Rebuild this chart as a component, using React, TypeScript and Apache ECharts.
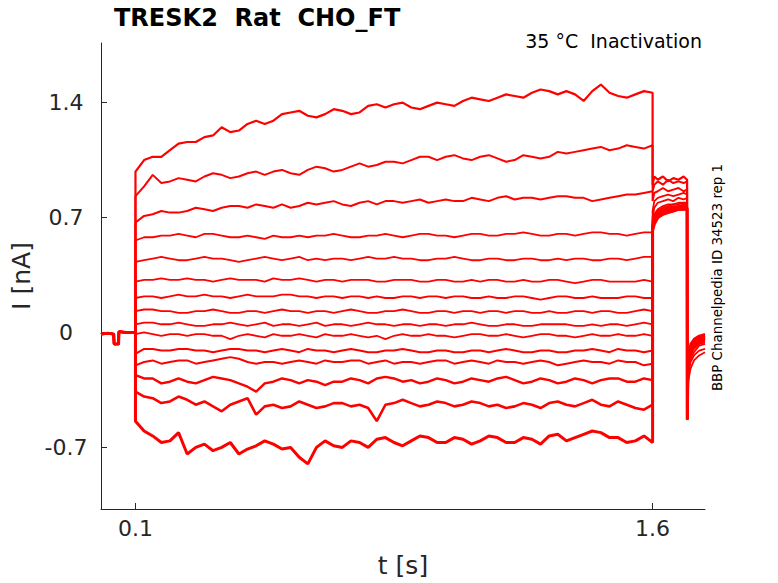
import React, { useRef, useEffect } from 'react'
import * as echarts from 'echarts'

// time grid of the pre-pulse holding segment [s]
const PRE_T = [0, 0.02, 0.037, 0.038, 0.051, 0.052, 0.075, 0.1]
const PRE_I = [-0.01, -0.005, -0.01, -0.07, -0.07, 0.005, 0.0, 0.0]

// time grid of the conditioning step [s], every 25 ms
const STEP_T = [
  0.1, 0.125, 0.15, 0.175, 0.2, 0.225, 0.25, 0.275, 0.3, 0.325, 0.35, 0.375, 0.4, 0.425, 0.45,
  0.475, 0.5, 0.525, 0.55, 0.575, 0.6, 0.625, 0.65, 0.675, 0.7, 0.725, 0.75, 0.775, 0.8, 0.825,
  0.85, 0.875, 0.9, 0.925, 0.95, 0.975, 1.0, 1.025, 1.05, 1.075, 1.1, 1.125, 1.15, 1.175, 1.2,
  1.225, 1.25, 1.275, 1.3, 1.325, 1.35, 1.375, 1.4, 1.425, 1.45, 1.475, 1.5, 1.525, 1.55, 1.575, 1.6,
]

// test pulse and return to holding [s]
const TAIL_T = [1.6, 1.605, 1.615, 1.63, 1.645, 1.66, 1.675, 1.69, 1.7]
const POST_T = [1.7005, 1.703, 1.71, 1.72, 1.735, 1.752]

// currents during the step [nA], one row per sweep
const stepCurrents = [
  [0.98, 1.05, 1.07, 1.07, 1.11, 1.15, 1.16, 1.16, 1.19, 1.2, 1.25, 1.22, 1.23, 1.27, 1.29, 1.27, 1.29, 1.33, 1.34, 1.35, 1.32, 1.31, 1.33, 1.36, 1.35, 1.33, 1.34, 1.38, 1.39, 1.37, 1.39, 1.4, 1.37, 1.36, 1.38, 1.4, 1.39, 1.38, 1.41, 1.43, 1.42, 1.41, 1.43, 1.45, 1.44, 1.43, 1.46, 1.48, 1.47, 1.45, 1.47, 1.45, 1.41, 1.47, 1.51, 1.46, 1.44, 1.43, 1.45, 1.47, 1.46],
  [0.83, 0.89, 0.96, 0.91, 0.92, 0.94, 0.93, 0.92, 0.95, 0.97, 0.96, 0.94, 0.95, 0.97, 0.98, 0.96, 0.98, 0.99, 0.97, 0.96, 0.99, 1.01, 1.0, 0.98, 0.99, 1.01, 1.03, 1.01, 1.02, 1.04, 1.04, 1.03, 1.05, 1.07, 1.07, 1.05, 1.07, 1.08, 1.06, 1.05, 1.07, 1.08, 1.06, 1.04, 1.05, 1.08, 1.07, 1.06, 1.07, 1.1, 1.09, 1.1, 1.11, 1.12, 1.13, 1.11, 1.12, 1.14, 1.13, 1.12, 1.14],
  [0.67, 0.71, 0.72, 0.74, 0.73, 0.73, 0.74, 0.76, 0.75, 0.74, 0.76, 0.77, 0.77, 0.76, 0.78, 0.77, 0.76, 0.78, 0.76, 0.77, 0.79, 0.78, 0.79, 0.8, 0.78, 0.77, 0.79, 0.8, 0.78, 0.8, 0.8, 0.79, 0.8, 0.81, 0.79, 0.8, 0.81, 0.8, 0.8, 0.82, 0.81, 0.8, 0.82, 0.83, 0.81, 0.82, 0.82, 0.81, 0.82, 0.83, 0.83, 0.82, 0.82, 0.8, 0.81, 0.82, 0.83, 0.84, 0.84, 0.85, 0.86],
  [0.56, 0.58, 0.58, 0.59, 0.59, 0.6, 0.59, 0.58, 0.6, 0.6, 0.59, 0.58, 0.58, 0.59, 0.58, 0.57, 0.59, 0.58, 0.58, 0.59, 0.58, 0.59, 0.59, 0.6, 0.59, 0.58, 0.58, 0.59, 0.59, 0.6, 0.59, 0.58, 0.59, 0.6, 0.6, 0.59, 0.59, 0.58, 0.59, 0.6, 0.6, 0.59, 0.59, 0.6, 0.6, 0.61, 0.6, 0.59, 0.59, 0.6, 0.6, 0.59, 0.6, 0.61, 0.61, 0.6, 0.6, 0.59, 0.6, 0.61, 0.61],
  [0.43, 0.44, 0.45, 0.46, 0.45, 0.44, 0.44, 0.45, 0.46, 0.45, 0.45, 0.44, 0.43, 0.44, 0.45, 0.46, 0.45, 0.44, 0.45, 0.46, 0.44, 0.45, 0.44, 0.45, 0.45, 0.44, 0.45, 0.46, 0.45, 0.45, 0.46, 0.45, 0.45, 0.44, 0.44, 0.45, 0.45, 0.46, 0.45, 0.44, 0.44, 0.45, 0.45, 0.44, 0.44, 0.45, 0.45, 0.44, 0.44, 0.45, 0.44, 0.45, 0.45, 0.44, 0.44, 0.45, 0.45, 0.44, 0.45, 0.46, 0.46],
  [0.31, 0.32, 0.32, 0.33, 0.32, 0.32, 0.33, 0.32, 0.32, 0.31, 0.32, 0.33, 0.32, 0.32, 0.32, 0.31, 0.33, 0.32, 0.32, 0.33, 0.32, 0.31, 0.32, 0.32, 0.31, 0.32, 0.32, 0.32, 0.31, 0.31, 0.32, 0.32, 0.32, 0.31, 0.31, 0.32, 0.32, 0.31, 0.31, 0.32, 0.31, 0.32, 0.32, 0.31, 0.31, 0.32, 0.31, 0.31, 0.32, 0.32, 0.31, 0.3, 0.31, 0.32, 0.32, 0.31, 0.31, 0.31, 0.31, 0.32, 0.31],
  [0.21, 0.22, 0.22, 0.21, 0.22, 0.23, 0.22, 0.22, 0.23, 0.22, 0.22, 0.21, 0.22, 0.23, 0.22, 0.22, 0.22, 0.23, 0.23, 0.22, 0.22, 0.21, 0.22, 0.22, 0.21, 0.22, 0.22, 0.21, 0.22, 0.21, 0.21, 0.22, 0.22, 0.21, 0.22, 0.22, 0.21, 0.22, 0.22, 0.21, 0.21, 0.22, 0.21, 0.21, 0.22, 0.22, 0.21, 0.2, 0.21, 0.22, 0.22, 0.21, 0.21, 0.22, 0.21, 0.21, 0.21, 0.22, 0.22, 0.21, 0.21],
  [0.13, 0.14, 0.14, 0.13, 0.13, 0.12, 0.12, 0.13, 0.13, 0.14, 0.13, 0.12, 0.12, 0.13, 0.13, 0.12, 0.13, 0.14, 0.13, 0.13, 0.12, 0.13, 0.13, 0.12, 0.13, 0.14, 0.13, 0.12, 0.12, 0.13, 0.13, 0.14, 0.13, 0.12, 0.12, 0.13, 0.13, 0.12, 0.13, 0.13, 0.12, 0.13, 0.13, 0.12, 0.13, 0.13, 0.12, 0.12, 0.13, 0.12, 0.12, 0.13, 0.13, 0.12, 0.13, 0.13, 0.12, 0.12, 0.13, 0.14, 0.13],
  [0.05, 0.06, 0.06, 0.05, 0.05, 0.06, 0.05, 0.04, 0.04, 0.05, 0.05, 0.06, 0.05, 0.04, 0.05, 0.06, 0.04, 0.05, 0.05, 0.04, 0.05, 0.06, 0.04, 0.05, 0.05, 0.04, 0.05, 0.06, 0.05, 0.05, 0.04, 0.05, 0.05, 0.04, 0.05, 0.05, 0.04, 0.05, 0.05, 0.06, 0.05, 0.04, 0.04, 0.05, 0.05, 0.04, 0.04, 0.05, 0.05, 0.05, 0.05, 0.04, 0.04, 0.05, 0.04, 0.05, 0.05, 0.04, 0.05, 0.06, 0.05],
  [-0.01, 0.0, -0.01, -0.02, -0.01, -0.01, -0.02, -0.01, -0.01, -0.02, -0.02, -0.04, -0.02, -0.01, -0.02, -0.03, -0.01, -0.02, -0.02, -0.01, -0.02, -0.03, -0.01, -0.02, -0.02, -0.01, -0.02, -0.03, -0.02, -0.04, -0.02, -0.01, -0.02, -0.02, -0.01, -0.02, -0.02, -0.03, -0.02, -0.01, -0.01, -0.02, -0.02, -0.01, -0.02, -0.03, -0.02, -0.01, -0.01, -0.02, -0.02, -0.03, -0.02, -0.01, -0.02, -0.02, -0.01, -0.02, -0.02, -0.01, -0.02],
  [-0.13, -0.1, -0.1, -0.11, -0.11, -0.1, -0.1, -0.11, -0.11, -0.12, -0.11, -0.1, -0.1, -0.11, -0.11, -0.12, -0.11, -0.1, -0.11, -0.12, -0.1, -0.11, -0.11, -0.12, -0.11, -0.1, -0.11, -0.12, -0.12, -0.11, -0.11, -0.1, -0.11, -0.12, -0.12, -0.11, -0.11, -0.12, -0.12, -0.11, -0.11, -0.12, -0.11, -0.1, -0.11, -0.12, -0.12, -0.11, -0.11, -0.12, -0.12, -0.11, -0.11, -0.1, -0.11, -0.12, -0.1, -0.11, -0.11, -0.12, -0.11],
  [-0.2, -0.18, -0.17, -0.19, -0.18, -0.17, -0.17, -0.19, -0.18, -0.17, -0.16, -0.15, -0.16, -0.18, -0.19, -0.18, -0.18, -0.19, -0.18, -0.17, -0.18, -0.19, -0.17, -0.18, -0.18, -0.17, -0.17, -0.19, -0.18, -0.17, -0.19, -0.18, -0.18, -0.19, -0.18, -0.17, -0.17, -0.19, -0.18, -0.17, -0.18, -0.19, -0.17, -0.18, -0.18, -0.19, -0.18, -0.17, -0.18, -0.2, -0.19, -0.18, -0.17, -0.18, -0.18, -0.19, -0.17, -0.18, -0.18, -0.2, -0.19],
  [-0.26, -0.28, -0.28, -0.31, -0.3, -0.28, -0.3, -0.31, -0.29, -0.27, -0.28, -0.29, -0.31, -0.33, -0.36, -0.31, -0.3, -0.28, -0.29, -0.31, -0.29, -0.3, -0.32, -0.3, -0.3, -0.28, -0.29, -0.31, -0.28, -0.27, -0.28, -0.3, -0.29, -0.31, -0.3, -0.28, -0.29, -0.31, -0.3, -0.28, -0.29, -0.3, -0.28, -0.27, -0.29, -0.31, -0.3, -0.28, -0.29, -0.31, -0.3, -0.28, -0.29, -0.31, -0.29, -0.28, -0.28, -0.3, -0.3, -0.28, -0.29],
  [-0.36, -0.39, -0.4, -0.43, -0.42, -0.39, -0.41, -0.44, -0.42, -0.45, -0.48, -0.44, -0.42, -0.4, -0.5, -0.45, -0.44, -0.46, -0.45, -0.42, -0.44, -0.46, -0.45, -0.43, -0.43, -0.45, -0.44, -0.46, -0.54, -0.44, -0.43, -0.41, -0.43, -0.45, -0.44, -0.42, -0.43, -0.45, -0.44, -0.42, -0.43, -0.45, -0.44, -0.46, -0.45, -0.43, -0.44, -0.46, -0.43, -0.42, -0.44, -0.45, -0.43, -0.41, -0.44, -0.45, -0.42, -0.44, -0.46, -0.47, -0.44],
  [-0.54, -0.6, -0.63, -0.67, -0.66, -0.61, -0.74, -0.7, -0.68, -0.72, -0.7, -0.67, -0.74, -0.71, -0.69, -0.66, -0.68, -0.71, -0.7, -0.76, -0.8, -0.7, -0.66, -0.69, -0.7, -0.66, -0.67, -0.7, -0.65, -0.64, -0.67, -0.69, -0.66, -0.63, -0.64, -0.67, -0.67, -0.64, -0.65, -0.68, -0.66, -0.63, -0.64, -0.67, -0.67, -0.64, -0.65, -0.68, -0.63, -0.62, -0.66, -0.64, -0.62, -0.6, -0.61, -0.64, -0.64, -0.67, -0.66, -0.63, -0.67],
]

// currents during the test pulse [nA]
const tailCurrents = [
  [0.9, 0.95, 0.93, 0.95, 0.92, 0.94, 0.93, 0.95, 0.93],
  [0.86, 0.9, 0.92, 0.9, 0.93, 0.91, 0.92, 0.91, 0.92],
  [0.8, 0.85, 0.86, 0.88, 0.86, 0.87, 0.88, 0.86, 0.87],
  [0.74, 0.8, 0.82, 0.83, 0.84, 0.83, 0.84, 0.85, 0.84],
  [0.7, 0.76, 0.79, 0.8, 0.81, 0.8, 0.82, 0.81, 0.82],
  [0.68, 0.72, 0.75, 0.77, 0.78, 0.78, 0.79, 0.79, 0.79],
  [0.67, 0.71, 0.74, 0.76, 0.77, 0.78, 0.78, 0.79, 0.78],
  [0.66, 0.7, 0.73, 0.75, 0.76, 0.77, 0.77, 0.78, 0.78],
  [0.66, 0.7, 0.73, 0.75, 0.76, 0.76, 0.77, 0.77, 0.77],
  [0.65, 0.69, 0.72, 0.74, 0.75, 0.76, 0.76, 0.77, 0.77],
  [0.65, 0.69, 0.72, 0.74, 0.75, 0.75, 0.76, 0.76, 0.77],
  [0.64, 0.68, 0.71, 0.73, 0.74, 0.75, 0.76, 0.76, 0.76],
  [0.64, 0.68, 0.71, 0.73, 0.74, 0.75, 0.75, 0.76, 0.76],
  [0.63, 0.67, 0.7, 0.72, 0.74, 0.74, 0.75, 0.75, 0.76],
  [0.62, 0.66, 0.7, 0.72, 0.73, 0.74, 0.75, 0.75, 0.75],
]

// currents after return to holding [nA]
const postCurrents = [
  [-0.5, -0.14, -0.07, -0.04, -0.02, -0.01],
  [-0.5, -0.16, -0.09, -0.05, -0.03, -0.02],
  [-0.5, -0.2, -0.12, -0.08, -0.05, -0.04],
  [-0.51, -0.24, -0.16, -0.12, -0.08, -0.07],
  [-0.52, -0.3, -0.22, -0.17, -0.14, -0.12],
  [-0.53, -0.26, -0.18, -0.14, -0.11, -0.1],
  [-0.53, -0.22, -0.14, -0.1, -0.07, -0.06],
  [-0.53, -0.22, -0.13, -0.09, -0.06, -0.05],
  [-0.53, -0.21, -0.13, -0.09, -0.06, -0.05],
  [-0.53, -0.21, -0.12, -0.08, -0.05, -0.04],
  [-0.53, -0.2, -0.12, -0.08, -0.05, -0.04],
  [-0.53, -0.2, -0.11, -0.07, -0.04, -0.03],
  [-0.53, -0.19, -0.11, -0.07, -0.04, -0.03],
  [-0.53, -0.19, -0.1, -0.06, -0.04, -0.03],
  [-0.53, -0.18, -0.1, -0.06, -0.03, -0.02],
]

const X_TICKS = [0.1, 1.6]
const Y_TICKS = [-0.7, 0, 0.7, 1.4]

// stroke widths: the noisier sweeps get a thicker pen
const LINE_WIDTHS = [2.2, 2, 2, 1.8, 1.8, 1.8, 1.8, 1.8, 1.8, 1.8, 2, 2, 2.4, 2.6, 3]

const FONT = 'DejaVu Sans'
const INK = '#262626'

const App: React.FC = () => {
  const chartRef = useRef<HTMLDivElement>(null)

  useEffect(() => {
    if (!chartRef.current) return
    document.body.style.margin = '0'

    const chart = echarts.init(chartRef.current, null, { renderer: 'svg' })

    const series = stepCurrents.map((step, k) => ({
      type: 'line',
      data: [
        ...PRE_T.map((t, i) => [t, PRE_I[i]]),
        ...STEP_T.map((t, i) => [t, step[i]]),
        ...TAIL_T.map((t, i) => [t, tailCurrents[k][i]]),
        ...POST_T.map((t, i) => [t, postCurrents[k][i]]),
      ],
      symbol: 'none',
      silent: true,
      lineStyle: { color: '#ff0000', width: LINE_WIDTHS[k] },
    }))

    const option = {
      animation: false,
      grid: { left: 101, top: 43, right: 73, bottom: 71 },
      xAxis: {
        type: 'value',
        min: 0,
        max: 1.752,
        name: 't [s]',
        nameLocation: 'middle',
        nameGap: 44,
        nameTextStyle: { fontFamily: FONT, fontSize: 25, color: INK },
        axisLine: { onZero: false, lineStyle: { color: INK, width: 1 } },
        axisTick: { inside: true, length: 6, customValues: X_TICKS, lineStyle: { color: INK } },
        axisLabel: { customValues: X_TICKS, fontFamily: FONT, fontSize: 22, color: INK, margin: 8 },
        splitLine: { show: false },
      },
      yAxis: {
        type: 'value',
        min: -1.075,
        max: 1.763,
        name: 'I [nA]',
        nameLocation: 'middle',
        nameGap: 61,
        nameTextStyle: { fontFamily: FONT, fontSize: 25, color: INK },
        axisLine: { show: true, onZero: false, lineStyle: { color: INK, width: 1 } },
        axisTick: { show: true, inside: true, length: 6, customValues: Y_TICKS, lineStyle: { color: INK } },
        axisLabel: {
          customValues: Y_TICKS,
          fontFamily: FONT,
          fontSize: 22,
          color: INK,
          margin: 35,
          align: 'center',
        },
        splitLine: { show: false },
      },
      graphic: [
        {
          type: 'text',
          x: 114,
          y: 17.5,
          style: {
            text: 'TRESK2  Rat  CHO_FT',
            fontFamily: FONT,
            fontSize: 24,
            fontWeight: 'bold',
            fill: '#000',
            align: 'left',
            verticalAlign: 'middle',
          },
        },
        {
          type: 'text',
          x: 702,
          y: 40.5,
          style: {
            text: '35 °C  Inactivation',
            fontFamily: FONT,
            fontSize: 19,
            fill: '#000',
            align: 'right',
            verticalAlign: 'middle',
          },
        },
        {
          type: 'text',
          x: 717,
          y: 277.5,
          rotation: Math.PI / 2,
          style: {
            text: 'BBP Channelpedia ID 34523 rep 1',
            fontFamily: FONT,
            fontSize: 13.4,
            fill: '#000',
            align: 'center',
            verticalAlign: 'middle',
          },
        },
      ],
      series,
    }

    chart.setOption(option)

    return () => {
      chart.dispose()
    }
  }, [])

  return <div ref={chartRef} style={{ width: '778px', height: '583px' }} />
}

export default App
